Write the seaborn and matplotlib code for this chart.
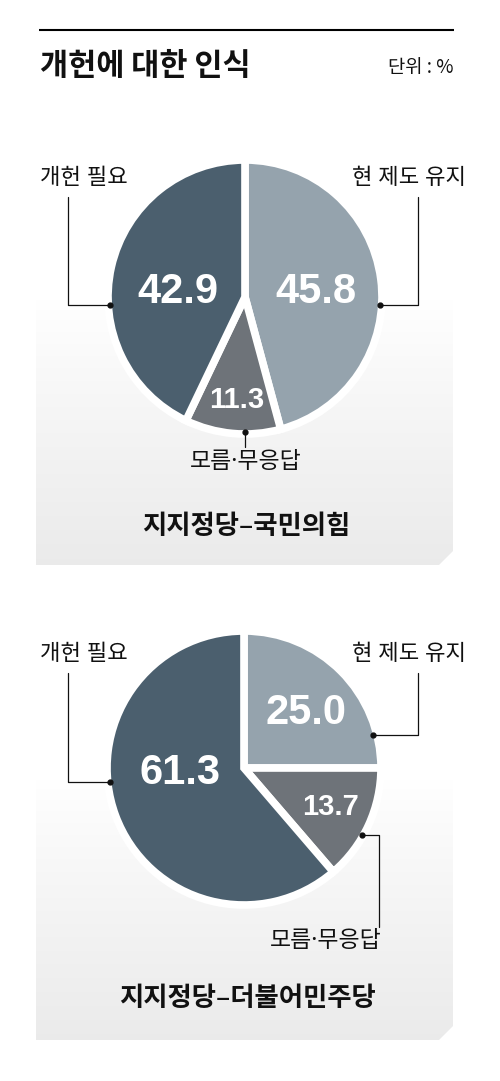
import numpy as np
import matplotlib
matplotlib.use("Agg")
import matplotlib.pyplot as plt
import seaborn as sns
from matplotlib.patches import Polygon

# ---------------- data ----------------
title = "개헌에 대한 인식"
unit_text = "단위 : %"
categories = ["현 제도 유지", "모름·무응답", "개헌 필요"]
ppp_values = [45.8, 11.3, 42.9]      # 지지정당-국민의힘
dem_values = [25.0, 13.7, 61.3]      # 지지정당-더불어민주당
panel_titles = ["지지정당–국민의힘", "지지정당–더불어민주당"]

# ---------------- style ----------------
sns.set_theme(style="white")
plt.rcParams['font.family'] = ['Noto Sans CJK KR', 'DejaVu Sans']
NUM_FONT = ['Liberation Sans Narrow', 'DejaVu Sans Condensed', 'Liberation Sans']
LABEL_FONT = ['Noto Sans', 'Noto Sans CJK KR']
slice_colors = ["#95a3ad", "#6e7379", "#4b5f6e"]

W, H = 500, 1081
fig = plt.figure(figsize=(5, 10.81), dpi=100)
ax = fig.add_axes([0, 0, 1, 1])


def Y(y):
    return H - y


def panel(x0, x1, yfade, ytop, ybot, chamfer=14):
    n = 300
    ys = np.linspace(ytop, ybot, n)
    t = np.clip((ys - yfade) / (ybot - yfade), 0, 1)
    g = 1 - 0.08 * t ** 0.9
    img = np.stack([g, g, g], axis=-1)[:, None, :]
    im = ax.imshow(img, extent=(x0, x1, Y(ybot), Y(ytop)), aspect='auto',
                   origin='upper', zorder=0, interpolation='bilinear')
    poly = Polygon([(x0, Y(ytop)), (x1, Y(ytop)), (x1, Y(ybot - chamfer)),
                    (x1 - chamfer, Y(ybot)), (x0, Y(ybot))], closed=True,
                   transform=ax.transData, facecolor='none', edgecolor='none')
    ax.add_patch(poly)
    im.set_clip_path(poly)


# header
ax.plot([39, 454], [Y(30), Y(30)], color='black', lw=1.5, solid_capstyle='butt')
ax.text(40, Y(66), title, fontsize=22, fontweight='bold', ha='left', va='center', color='#111111')
ax.text(453, Y(68), unit_text, fontsize=13.5, ha='right', va='center', color='#111111')

# backgrounds
panel(36, 453, 300, 250, 565)
panel(36, 453, 780, 720, 1040)


def draw_pie(values, cx, cy, R, value_pos, value_sizes, label_pos, label_sizes, leaders, dots):
    ax.pie(values, colors=slice_colors, startangle=90, counterclock=False,
           center=(cx, Y(cy)), radius=R,
           wedgeprops=dict(edgecolor='white', linewidth=5.5), normalize=True)
    for v, (x, y), fs in zip(values, value_pos, value_sizes):
        ax.text(x, Y(y), f"{v:.1f}", color='white', fontsize=fs, fontweight='bold',
                family=NUM_FONT, fontstretch='condensed',
                ha='center', va='baseline', zorder=5)
    for cat, (x, y, ha), fs in zip(categories, label_pos, label_sizes):
        ax.text(x, Y(y), cat, fontsize=fs, ha=ha, va='center', color='#111111',
                family=LABEL_FONT, zorder=5)
    for pts in leaders:
        xs = [p[0] for p in pts]
        ys = [Y(p[1]) for p in pts]
        ax.plot(xs, ys, color='#111111', lw=0.9, zorder=6)
    for (x, y) in dots:
        ax.plot([x], [Y(y)], marker='o', ms=3.5, color='#111111', zorder=7)


# pie 1: 국민의힘
draw_pie(ppp_values, 245, 297, 137,
         value_pos=[(316, 303), (237, 408), (178, 303)],
         value_sizes=[30, 21, 30],
         label_pos=[(466, 179, 'right'), (246, 462, 'center'), (40, 179, 'left')],
         label_sizes=[16, 16.5, 16],
         leaders=[[(68, 197), (68, 305), (110, 305)],
                  [(418, 197), (418, 305), (380, 305)],
                  [(245, 432), (245, 447)]],
         dots=[(110, 305), (380, 305), (245, 432)])

# pie 2: 더불어민주당
draw_pie(dem_values, 244, 768, 137,
         value_pos=[(306, 724), (330, 815), (180, 784)],
         value_sizes=[30, 21, 30],
         label_pos=[(466, 655, 'right'), (326, 941, 'center'), (40, 655, 'left')],
         label_sizes=[16, 16.5, 16],
         leaders=[[(68, 673), (68, 782), (110, 782)],
                  [(418, 673), (418, 735), (373, 735)],
                  [(362, 835), (379, 835), (379, 927)]],
         dots=[(110, 782), (373, 735), (362, 835)])

# panel titles
ax.text(246, Y(526), panel_titles[0], fontsize=19, fontweight='bold', ha='center', va='center', color='#111111')
ax.text(247, Y(998), panel_titles[1], fontsize=19, fontweight='bold', ha='center', va='center', color='#111111')

ax.set_xlim(0, W)
ax.set_ylim(0, H)
ax.set_aspect('auto')
ax.axis('off')

fig.savefig("out.png", dpi=100)
